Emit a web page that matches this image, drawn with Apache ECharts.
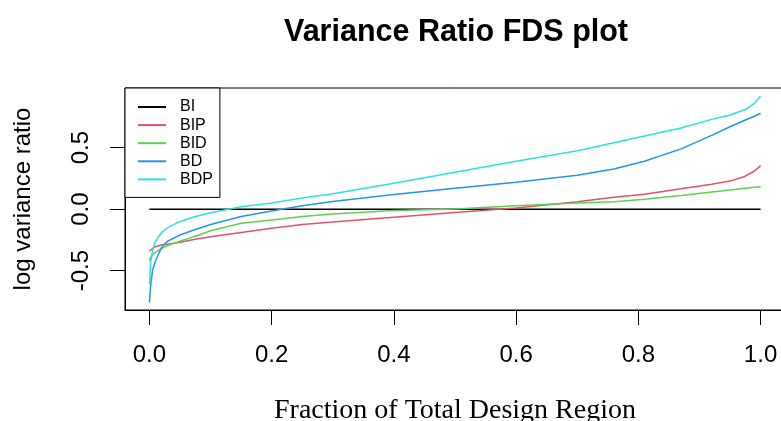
<!DOCTYPE html>
<html>
<head>
<meta charset="utf-8">
<script src="https://cdn.jsdelivr.net/npm/echarts@6/dist/echarts.min.js"></script>
<style>html,body{margin:0;padding:0;background:#fff;}#chart{width:781px;height:421px;}</style>
</head>
<body>
<div id="chart"></div>
<script>
// Data
const seriesNames = ['BI', 'BIP', 'BID', 'BD', 'BDP'];
const fraction = [0, 0.002, 0.005, 0.01, 0.02, 0.03, 0.05, 0.075, 0.1, 0.15, 0.2, 0.25, 0.3, 0.4, 0.5, 0.6, 0.7, 0.76, 0.81, 0.87, 0.92, 0.95, 0.975, 0.99, 1.0];
const biFraction = [0, 1.0];
const biValues = [0, 0];
const bipValues = [-0.34, -0.33, -0.32, -0.305, -0.29, -0.285, -0.27, -0.245, -0.225, -0.19, -0.155, -0.125, -0.105, -0.065, -0.027, 0.01, 0.06, 0.096, 0.122, 0.165, 0.203, 0.228, 0.268, 0.31, 0.354];
const bidValues = [-0.42, -0.39, -0.375, -0.35, -0.32, -0.295, -0.26, -0.22, -0.175, -0.115, -0.088, -0.06, -0.039, -0.01, 0.002, 0.028, 0.05, 0.06, 0.08, 0.11, 0.14, 0.155, 0.17, 0.178, 0.183];
const bdValues = [-0.76, -0.62, -0.50, -0.42, -0.31, -0.26, -0.21, -0.165, -0.125, -0.06, -0.015, 0.028, 0.063, 0.12, 0.17, 0.218, 0.275, 0.327, 0.39, 0.49, 0.60, 0.67, 0.725, 0.755, 0.78];
const bdpValues = [-0.61, -0.43, -0.34, -0.26, -0.19, -0.15, -0.10, -0.06, -0.03, 0.02, 0.05, 0.09, 0.125, 0.21, 0.30, 0.39, 0.475, 0.54, 0.595, 0.66, 0.73, 0.765, 0.81, 0.86, 0.92];
const xTicks = [0, 0.2, 0.4, 0.6, 0.8, 1.0];
const yTicks = [-0.5, 0, 0.5];
const colors = ['#000000', '#DF536B', '#61D04F', '#2297E6', '#28E2E5'];

const pairs = (xs, ys) => xs.map((x, i) => [x, ys[i]]);
const allData = [
  pairs(biFraction, biValues),
  pairs(fraction, bipValues),
  pairs(fraction, bidValues),
  pairs(fraction, bdValues),
  pairs(fraction, bdpValues)
];

const chart = echarts.init(document.getElementById('chart'), null, {renderer: 'canvas'});
const sans = 'Liberation Sans, Arial, sans-serif';
chart.setOption({
  animation: false,
  backgroundColor: '#ffffff',
  title: {
    text: 'Variance Ratio FDS plot',
    left: 451, top: 12, textAlign: 'center',
    textStyle: {fontFamily: sans, fontWeight: 'bold', fontSize: 30.5, color: '#000'}
  },
  legend: {
    data: seriesNames,
    orient: 'vertical',
    left: 125, top: 88,
    padding: [11, 7, 10, 12],
    itemWidth: 28, itemHeight: 14, itemGap: 2.1,
    borderColor: '#000', borderWidth: 1,
    backgroundColor: '#fff',
    itemStyle: {opacity: 0},
    textStyle: {fontFamily: sans, fontSize: 16, color: '#000', lineHeight: 14, padding: [0, 0, 0, 9]}
  },
  grid: {
    left: 125, top: 88, width: 660, height: 222,
    outerBoundsMode: 'none', containLabel: false,
    show: true, borderColor: '#000', borderWidth: 1, backgroundColor: 'transparent'
  },
  xAxis: {
    type: 'value', min: -0.04, max: 1.04,
    name: 'Fraction of Total Design Region',
    nameLocation: 'middle', nameGap: 87,
    nameTextStyle: {fontFamily: 'Liberation Serif, Times New Roman, serif', fontSize: 28, color: '#000'},
    axisLine: {show: true, onZero: false, lineStyle: {color: '#000', width: 1}},
    splitLine: {show: false},
    axisTick: {show: true, inside: false, length: 15, customValues: xTicks, lineStyle: {color: '#000', width: 1}},
    axisLabel: {show: true, customValues: xTicks, margin: 33, fontFamily: sans, fontSize: 24, color: '#000',
      formatter: v => v.toFixed(1)}
  },
  yAxis: {
    type: 'value', min: -0.82, max: 0.985,
    name: 'log variance ratio',
    nameLocation: 'middle', nameGap: 90, nameRotate: 90,
    nameTextStyle: {fontFamily: sans, fontSize: 24, color: '#000'},
    axisLine: {show: true, onZero: false, lineStyle: {color: '#000', width: 1}},
    splitLine: {show: false},
    axisTick: {show: true, inside: false, length: 15, customValues: yTicks, lineStyle: {color: '#000', width: 1}},
    axisLabel: {show: true, customValues: yTicks, rotate: 90, margin: 32, fontFamily: sans, fontSize: 24, color: '#000',
      formatter: v => v.toFixed(1)}
  },
  series: seriesNames.map((name, i) => ({
    name: name,
    type: 'line',
    data: allData[i],
    symbol: 'none',
    color: colors[i],
    lineStyle: {color: colors[i], width: 1.5},
    z: 2 + i
  }))
});
</script>
</body>
</html>
